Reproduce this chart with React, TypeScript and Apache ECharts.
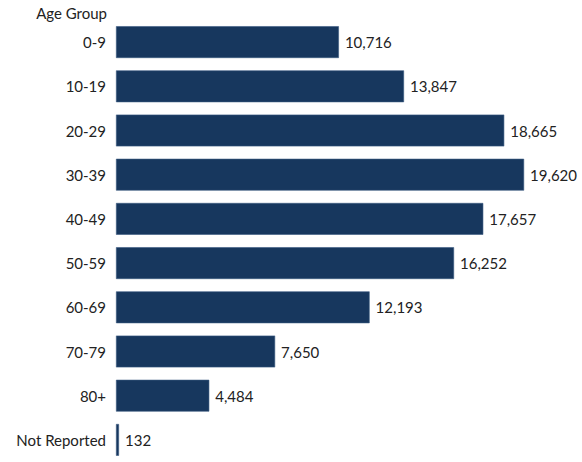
import React, { useEffect, useRef } from "react";
import * as echarts from "echarts";

const categories = ["0-9", "10-19", "20-29", "30-39", "40-49", "50-59", "60-69", "70-79", "80+", "Not Reported"];
const values = [10716, 13847, 18665, 19620, 17657, 16252, 12193, 7650, 4484, 132];
const axisTitle = "Age Group";

const FONT = "Lato, 'Open Sans', sans-serif";
const FS = 15;

export default function App() {
  const ref = useRef<HTMLDivElement>(null);
  useEffect(() => {
    if (!ref.current) return;
    const chart = echarts.init(ref.current, null, { renderer: "svg" });
    chart.setOption({
      animation: false,
      backgroundColor: "#ffffff",
      textStyle: { fontFamily: FONT },
      grid: { left: 116, top: 20, width: 416, height: 446, containLabel: false },
      xAxis: {
        type: "value",
        min: 0,
        max: 20000,
        show: false,
      },
      yAxis: {
        type: "category",
        data: categories,
        inverse: true,
        axisLine: { show: false },
        axisTick: { show: false },
        axisLabel: { color: "#222", fontSize: FS, margin: 10, fontFamily: FONT },
      },
      graphic: [
        {
          type: "text",
          x: 107,
          y: 5,
          style: { text: axisTitle, align: "right", fill: "#222", fontSize: FS, fontFamily: FONT },
        },
      ],
      series: [
        {
          type: "bar",
          data: values,
          barCategoryGap: "28%",
          barMinHeight: 3,
          itemStyle: { color: "#17375e", borderColor: "#3a5a82", borderWidth: 0.6 },
          label: {
            show: true,
            position: "right",
            distance: 6,
            color: "#222",
            fontSize: FS,
            fontFamily: FONT,
            formatter: (p: any) => p.value.toLocaleString("en-US"),
          },
        },
      ],
    });
    return () => chart.dispose();
  }, []);
  return <div ref={ref} style={{ position: "fixed", left: 0, top: 0, width: 582, height: 462 }} />;
}
